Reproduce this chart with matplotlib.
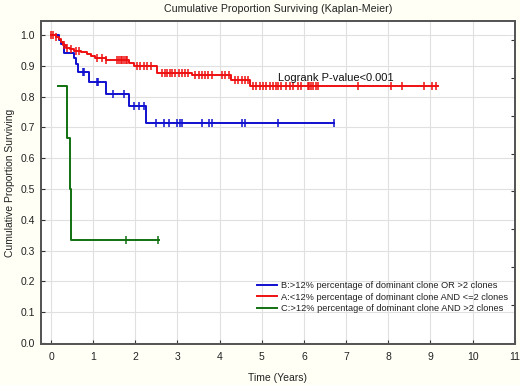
import numpy as np
import matplotlib
matplotlib.use("Agg")
import matplotlib.pyplot as plt

plt.rcParams['font.family'] = ['Liberation Sans', 'DejaVu Sans']

# ---- data ----
title = "Cumulative Proportion Surviving (Kaplan-Meier)"
xlabel = "Time (Years)"
ylabel = "Cumulative Proportion Surviving"
annotation = "Logrank P-value<0.001"

labels = ["B:>12% percentage of dominant clone OR >2 clones",
          "A:<12% percentage of dominant clone AND <=2 clones",
          "C:>12% percentage of dominant clone AND >2 clones"]
colors = ["#1010d0", "#ee1010", "#107010"]

# Group B (blue)
b_time = [0.0, 0.2, 0.24, 0.31, 0.55, 0.59, 0.64, 0.89, 1.30, 1.85, 2.26]
b_surv = [1.0, 0.985, 0.97, 0.94, 0.925, 0.905, 0.881, 0.848, 0.81, 0.77, 0.715]
b_end = 6.72
b_cens = [0.76, 0.79, 1.08, 1.12, 1.46, 1.74, 1.97, 2.09, 2.21, 2.48, 2.68,
          2.80, 3.00, 3.05, 3.11, 3.57, 3.74, 3.81, 4.53, 4.59, 5.39, 6.72]

# Group A (red)
a_time = [0.0, 0.12, 0.2, 0.24, 0.28, 0.35, 0.45, 0.55, 0.7, 0.85, 0.95, 1.05,
          1.3, 1.85, 1.98, 2.51, 3.34, 4.28, 4.72]
a_surv = [1.0, 0.993, 0.986, 0.976, 0.967, 0.958, 0.953, 0.948, 0.944, 0.938,
          0.932, 0.926, 0.918, 0.909, 0.898, 0.878, 0.870, 0.854, 0.833]
a_end = 9.18
a_cens = [0.0, 0.04, 0.12, 0.31, 0.39, 0.47, 0.59, 0.67, 1.10, 1.22, 1.30,
          1.57, 1.61, 1.65, 1.69, 1.73, 1.77, 1.81, 2.04, 2.12, 2.20, 2.28,
          2.36, 2.63, 2.71, 2.75, 2.83, 2.88, 2.95, 3.03, 3.10, 3.17, 3.25,
          3.42, 3.50, 3.58, 3.66, 3.73, 3.81, 4.05, 4.13, 4.21, 4.36, 4.44,
          4.52, 4.60, 4.68, 4.79, 4.87, 4.95, 5.03, 5.11, 5.19, 5.27, 5.34,
          5.38, 5.46, 5.58, 5.66, 5.74, 5.86, 5.93, 6.09, 6.13, 6.17, 6.21,
          6.29, 6.33, 7.27, 8.06, 8.33, 8.84, 9.04, 9.12]

# Group C (green)
c_time = [0.16, 0.38, 0.455, 0.485]
c_surv = [0.833, 0.667, 0.5, 0.333]
c_end = 2.55
c_cens = [1.78, 2.54]

xticks = list(range(0, 12))
yticks = [round(0.1 * i, 1) for i in range(11)]

# ---- figure ----
fig = plt.figure(figsize=(5.2, 3.85), dpi=100, facecolor="#fffff6")
ax = fig.add_axes([0.0783, 0.1065, 0.9117, 0.8395])
ax.set_facecolor("white")

groups = [(b_time, b_surv, b_end, b_cens),
          (a_time, a_surv, a_end, a_cens),
          (c_time, c_surv, c_end, c_cens)]

for (t, s, end, cens), col, lab in zip(groups, colors, labels):
    tt = list(t) + [end]
    ss = list(s) + [s[-1]]
    ax.step(tt, ss, where='post', color=col, lw=1.4, label=lab, zorder=3)
    idx = np.searchsorted(np.array(t), np.array(cens), side='right') - 1
    idx = np.clip(idx, 0, len(s) - 1)
    cy = np.array(s)[idx]
    ax.plot(cens, cy, ls='none', marker='|', ms=6, mew=1.1, color=col, zorder=4)

ax.set_xlim(-0.244, 11.0)
ax.set_ylim(-0.003, 1.046)
ax.set_xticks(xticks)
ax.set_yticks(yticks)
ax.set_yticklabels([f"{v:.1f}" for v in yticks])
ax.grid(True, color="#e0e0e0", lw=0.8, zorder=0)
ax.set_axisbelow(True)

ax.tick_params(axis='both', direction='in', length=3, width=0.8,
               colors="#333333", labelsize=7.5, labelcolor="#222222")
ax.tick_params(axis='x', pad=6)
ax.tick_params(axis='y', pad=4)

# right-hand inward ticks
ax2 = ax.twinx()
ax2.set_ylim(ax.get_ylim())
ax2.set_yticks([0.123 * i for i in range(1, 9)])
ax2.set_yticklabels([])
ax2.tick_params(axis='y', direction='in', length=3, width=0.8, colors="#333333")

for a in (ax, ax2):
    for sp in a.spines.values():
        sp.set_color("#555555")
        sp.set_linewidth(1.3)

ax.set_title(title, fontsize=7.7, color="#222222", pad=6)
ax.set_xlabel(xlabel, fontsize=7.5, color="#222222", labelpad=8)
ax.set_ylabel(ylabel, fontsize=7.5, color="#222222", labelpad=4)

ax.text(5.39, 0.851, annotation, fontsize=8, color="#111111", va='baseline',
        ha='left', zorder=5)

leg = ax.legend(loc='center left', bbox_to_anchor=(0.456, 0.145),
                frameon=False, fontsize=6.7, handlelength=2.2,
                handletextpad=0.4, labelspacing=0.3, borderpad=0,
                borderaxespad=0)
for t in leg.get_texts():
    t.set_color("#222222")

fig.savefig("out.png", dpi=100, facecolor=fig.get_facecolor())
